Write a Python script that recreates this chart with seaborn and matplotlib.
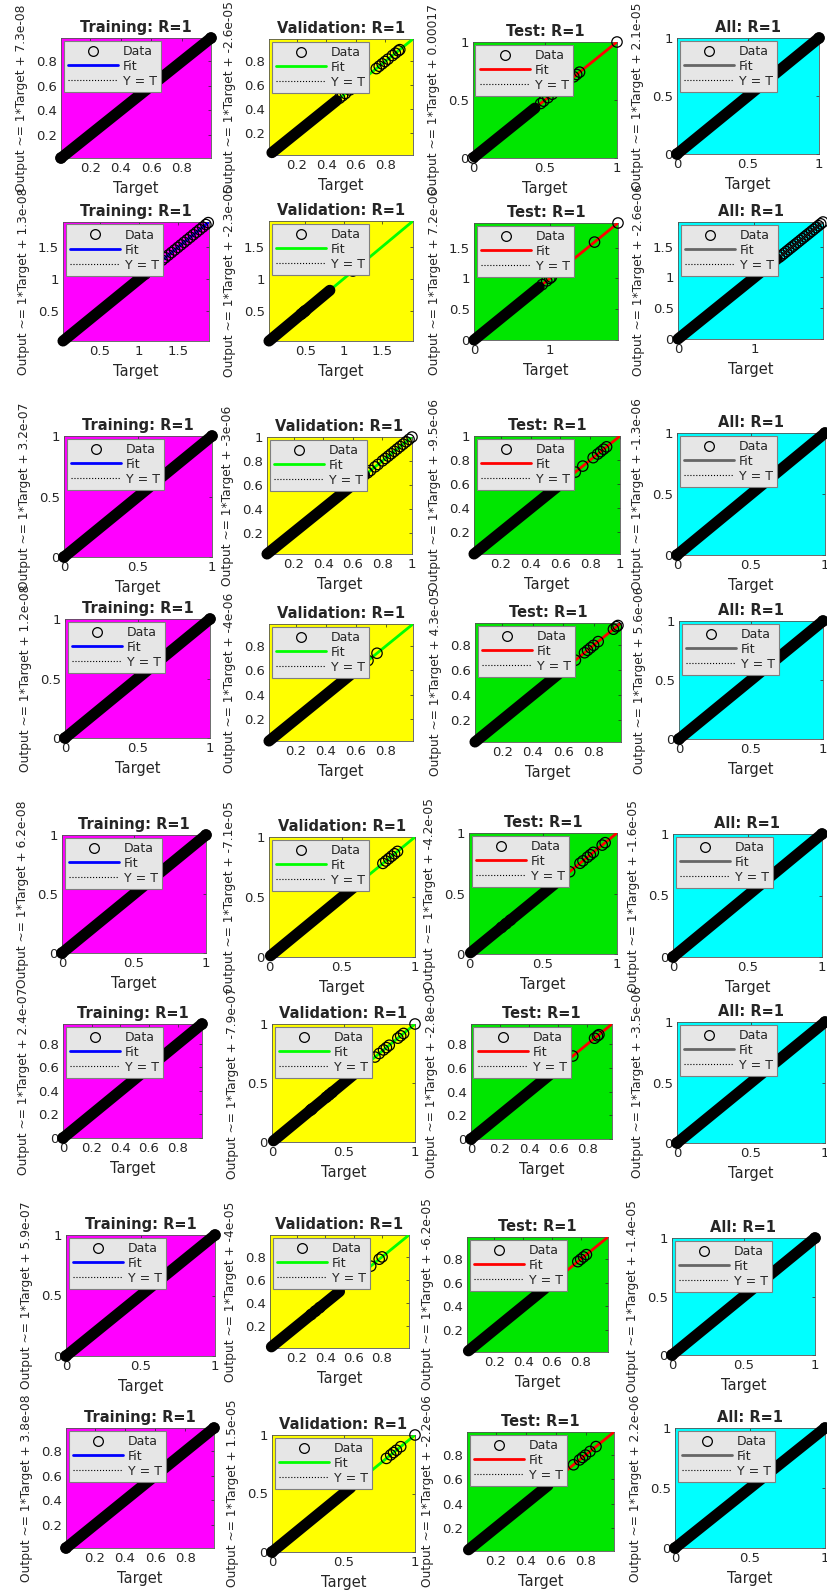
import matplotlib
matplotlib.use("Agg")
import matplotlib.pyplot as plt
from matplotlib.lines import Line2D
from matplotlib.ticker import FuncFormatter
import seaborn as sns

sns.set_style("white")
plt.rcParams["font.family"] = ["DejaVu Sans"]

# ---- data -------------------------------------------------------------
set_names = ["Training", "Validation", "Test", "All"]
panel_colors = ["#ff00ff", "#ffff00", "#00e600", "#00ffff"]
fit_colors = ["#0000ff", "#00ff00", "#ff0000", "#666666"]

# fitted intercepts (slope is 1 everywhere), one per run
slope = 1
train_offset = [7.3e-08, 1.3e-08, 3.2e-07, 1.2e-08, 6.2e-08, 2.4e-07, 5.9e-07, 3.8e-08]
val_offset = [-2.6e-05, -2.3e-05, -3e-06, -4e-06, -7.1e-05, -7.9e-07, -4e-05, 1.5e-05]
test_offset = [0.00017, 7.2e-06, -9.5e-06, 4.3e-05, -4.2e-05, -2.8e-05, -6.2e-05, -2.2e-06]
all_offset = [2.1e-05, -2.6e-06, -1.3e-06, 5.6e-06, -1.6e-05, -3.5e-06, -1.4e-05, 2.2e-06]

# target range of each panel
train_lim = [(0.008, 0.99), (0.03, 1.9), (0, 1), (0, 1), (0, 1), (0, 0.97), (0, 1), (0.01, 0.99)]
val_lim = [(0.01, 0.99), (0.03, 1.9), (0.02, 1), (0.02, 0.98), (0, 1), (0, 1), (0.01, 0.99), (0, 1)]
test_lim = [(0, 1), (0, 1.9), (0.02, 1), (0.02, 0.98), (0, 1), (0, 0.97), (0.01, 0.99), (0.01, 0.99)]
all_lim = [(0, 1), (0, 1.9), (0, 1), (0, 1), (0, 1), (0, 1), (0, 1), (0, 1)]

# tick values (x, y)
t5 = [0, 0.5, 1]
t2 = [0.2, 0.4, 0.6, 0.8]
t2b = [0.2, 0.4, 0.6, 0.8, 1]
t0 = [0, 0.2, 0.4, 0.6, 0.8]
t15 = [0.5, 1, 1.5]
train_ticks = [(t2, t2), (t15, t15), (t5, t5), (t5, t5), (t5, t5), (t0, t0), (t5, t5), (t2, t2)]
val_ticks = [(t2, t2), (t15, t15), (t2b, t2b), (t2, t2), (t5, t5), (t5, t5), (t2, t2), (t5, t5)]
test_ticks = [(t5, t5), ([0, 1], [0, 0.5, 1, 1.5]), (t2b, t2b), (t2, t2), (t5, t5), (t0, t0), (t2, t2), (t2, t2)]
all_ticks = [(t5, t5), ([0, 1], [0, 0.5, 1, 1.5]), (t5, t5), (t5, t5), (t5, t5), (t5, t5), (t5, t5), (t5, t5)]

# densely packed target runs (samples overlap into a solid band)
train_dense = [(0.008, 0.99), (0.03, 1.05), (0, 1), (0, 1), (0, 1), (0, 0.97), (0, 1), (0.01, 0.99)]
val_dense = [(0.03, 0.47), (0.03, 0.82), (0.02, 0.68), (0.02, 0.64), (0.01, 0.6), (0.01, 0.6), (0.02, 0.5), (0, 0.55)]
test_dense = [(0.01, 0.43), (0, 0.86), (0.02, 0.62), (0.02, 0.64), (0.01, 0.6), (0, 0.62), (0.02, 0.55), (0.02, 0.55)]
all_dense = [(0, 1), (0, 1.3), (0, 1), (0, 1), (0, 1), (0, 1), (0, 1), (0, 1)]

# isolated samples outside the dense runs
train_pts = [
    [0.008, 0.99],
    [1.08, 1.3, 1.34, 1.38, 1.42, 1.46, 1.5, 1.54, 1.58, 1.62, 1.66, 1.7, 1.74, 1.78, 1.82, 1.86, 1.89],
    [0, 1], [0, 1], [0, 1], [0, 0.97], [0, 1], [0.01, 0.99],
]
val_pts = [
    [0.49, 0.51, 0.53, 0.56, 0.58, 0.74, 0.76, 0.78, 0.80, 0.82, 0.85, 0.87, 0.89, 0.90],
    [0.45, 0.48, 0.5, 1.12],
    [0.7, 0.72, 0.75, 0.77, 0.8, 0.82, 0.84, 0.86, 0.88, 0.9, 0.92, 0.94, 0.96, 0.98, 1.0],
    [0.68, 0.74],
    [0.78, 0.8, 0.82, 0.84, 0.86, 0.88],
    [0.27, 0.28, 0.38, 0.4, 0.42, 0.72, 0.75, 0.78, 0.8, 0.82, 0.88, 0.9, 0.92, 1.0],
    [0.3, 0.33, 0.36, 0.72, 0.78, 0.8],
    [0, 0.8, 0.83, 0.85, 0.87, 0.9, 1.0],
]
test_pts = [
    [0.0, 0.47, 0.49, 0.52, 0.55, 0.70, 0.72, 0.74, 1.0],
    [0.9, 0.96, 1.0, 1.02, 1.59, 1.9],
    [0.66, 0.7, 0.75, 0.82, 0.85, 0.87, 0.89, 0.91],
    [0.68, 0.74, 0.76, 0.78, 0.8, 0.83, 0.93, 0.95, 0.96],
    [0.22, 0.25, 0.28, 0.68, 0.75, 0.77, 0.8, 0.82, 0.84, 0.9, 0.92],
    [0.0, 0.7, 0.85, 0.87, 0.88],
    [0.78, 0.8, 0.82, 0.84],
    [0.72, 0.76, 0.78, 0.8, 0.83, 0.87],
]
all_pts = [
    [0, 1],
    [1.33, 1.36, 1.39, 1.42, 1.45, 1.48, 1.51, 1.54, 1.57, 1.6, 1.63, 1.66, 1.69, 1.72, 1.75, 1.78, 1.81, 1.84, 1.87, 1.9],
    [0, 1], [0, 1], [0, 1], [0, 1], [0, 1], [0, 1],
]

offsets = [train_offset, val_offset, test_offset, all_offset]
lims = [train_lim, val_lim, test_lim, all_lim]
ticks = [train_ticks, val_ticks, test_ticks, all_ticks]
dense = [train_dense, val_dense, test_dense, all_dense]
points = [train_pts, val_pts, test_pts, all_pts]

# ---- layout (pixel boxes: left, top, right, bottom) -------------------
W, H = 827, 1591
boxes = [
    [(61, 38, 211, 158), (269, 39, 413, 155), (473, 42, 617, 158), (677, 38, 819, 154)],
    [(63, 222, 209, 341), (269, 221, 413, 341), (474, 223, 618, 340), (678, 222, 823, 339)],
    [(64, 436, 212, 557), (267, 437, 412, 554), (474, 436, 620, 554), (677, 433, 825, 555)],
    [(65, 619, 210, 738), (269, 624, 413, 741), (475, 623, 621, 742), (679, 621, 823, 739)],
    [(62, 835, 206, 953), (269, 837, 415, 957), (469, 833, 617, 954), (673, 834, 822, 957)],
    [(63, 1024, 202, 1138), (272, 1024, 415, 1142), (471, 1024, 612, 1139), (677, 1022, 825, 1143)],
    [(66, 1235, 215, 1356), (270, 1235, 409, 1348), (467, 1237, 608, 1352), (672, 1238, 815, 1355)],
    [(66, 1428, 214, 1548), (272, 1435, 415, 1552), (467, 1432, 614, 1551), (675, 1428, 825, 1548)],
]

fig = plt.figure(figsize=(W / 100, H / 100), dpi=100)
fig.patch.set_facecolor("white")
fmt = FuncFormatter(lambda v, p: "%g" % v)
text_grey = "#262626"

for r in range(8):
    for c in range(4):
        l, t, rr, b = boxes[r][c]
        wpx, hpx = rr - l, b - t
        ax = fig.add_axes([l / W, 1 - b / H, wpx / W, hpx / H])
        ax.set_facecolor(panel_colors[c])
        lo, hi = lims[c][r]
        off = offsets[c][r]

        # identity line, fit line, then the samples on top
        ident_line, = ax.plot([lo, hi], [lo, hi], color="k", lw=0.8, ls=":", zorder=2)
        fit_line, = ax.plot([lo, hi], [slope * lo + off, slope * hi + off],
                            color=fit_colors[c], lw=2, zorder=3)
        d0, d1 = dense[c][r]
        ax.plot([d0, d1], [d0, d1], color="k", lw=8, solid_capstyle="round",
                zorder=4, clip_on=False)
        pts = points[c][r]
        sns.scatterplot(x=pts, y=pts, ax=ax, marker="o", s=56, facecolor="none",
                        edgecolor="k", linewidth=0.9, zorder=5, clip_on=False)

        ax.set_xlim(lo, hi)
        ax.set_ylim(lo, hi)
        ax.set_xticks(ticks[c][r][0])
        ax.set_yticks(ticks[c][r][1])
        ax.xaxis.set_major_formatter(fmt)
        ax.yaxis.set_major_formatter(fmt)
        ax.tick_params(direction="in", length=2.5, width=0.5, top=True, right=True,
                       labelsize=9.5, labelcolor=text_grey, color=text_grey, pad=3)
        for sp in ax.spines.values():
            sp.set_color("#555555")
            sp.set_linewidth(0.6)

        ax.set_title(f"{set_names[c]}: R=1", fontsize=10.5, fontweight="bold", pad=4)
        ax.set_xlabel("Target", fontsize=10.5, color=text_grey)
        ax.xaxis.set_label_coords(0.5, -23 / hpx)
        ax.set_ylabel("Output ~= %g*Target + %.2g" % (slope, off), fontsize=8.8, color=text_grey)
        ax.yaxis.set_label_coords(-33 / wpx, 0.5)

        data_handle = Line2D([], [], ls="none", marker="o", ms=7, mfc="none",
                             mec="k", mew=0.9)
        leg = ax.legend([data_handle, fit_line, ident_line], ["Data", "Fit", "Y = T"],
                        loc="upper left", fontsize=9, frameon=True, fancybox=False,
                        framealpha=1, facecolor="#e6e6e6", edgecolor="#7f7f7f",
                        handlelength=4.0, handletextpad=0.4, labelspacing=0.15,
                        borderpad=0.35, borderaxespad=0.2)
        leg.get_frame().set_linewidth(0.8)
        leg.set_zorder(10)

fig.savefig("out.png", dpi=100, facecolor="white")
